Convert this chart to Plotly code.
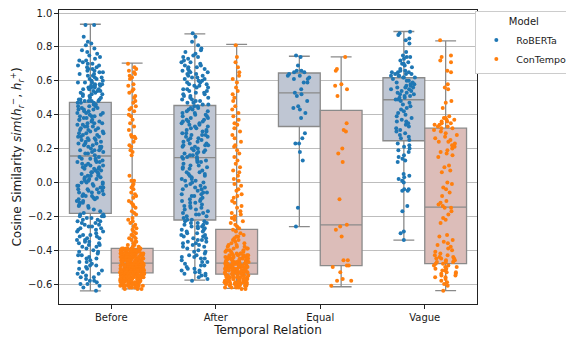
import plotly.graph_objects as go

categories = ["Before", "After", "Equal", "Vague"]

# Box statistics
roberta_q1 = [-0.183, -0.222, 0.330, 0.246]
roberta_median = [0.156, 0.146, 0.529, 0.488]
roberta_q3 = [0.472, 0.454, 0.646, 0.618]
roberta_low = [-0.641, -0.577, -0.261, -0.341]
roberta_high = [0.934, 0.877, 0.745, 0.891]

contempo_q1 = [-0.534, -0.542, -0.491, -0.480]
contempo_median = [-0.477, -0.477, -0.251, -0.146]
contempo_q3 = [-0.390, -0.277, 0.425, 0.320]
contempo_low = [-0.629, -0.626, -0.616, -0.639]
contempo_high = [0.704, 0.815, 0.741, 0.836]

# Individual similarity values (in hundredths)
before_roberta = [93,93,86,83,82,81,79,78,77,76,75,74,73,72,72,71,70,70,
69,69,68,68,67,67,66,66,65,65,64,64,63,63,62,62,61,61,60,60,
59,59,59,58,58,58,57,57,57,56,56,56,55,55,55,54,54,54,53,53,52,52,52,51,51,50,50,
49,49,49,48,48,48,48,47,47,47,
46,46,45,45,45,44,44,43,43,43,42,42,41,41,41,40,40,39,39,39,38,38,37,37,37,36,36,35,35,35,
34,34,33,33,33,32,32,31,31,31,30,30,29,29,29,28,28,27,27,27,26,26,25,25,25,24,24,23,23,23,
22,22,21,21,21,20,20,19,19,19,18,18,17,17,16,
15,15,14,14,14,13,13,12,12,12,11,11,10,10,10,9,9,8,8,8,7,7,6,6,6,5,5,4,4,4,3,3,2,2,2,1,1,0,0,0,
-1,-1,-2,-2,-2,-3,-3,-4,-4,-4,-5,-5,-6,-6,-6,-7,-7,-8,-8,-8,-9,-9,-10,-10,-11,-11,-12,-12,-13,-14,-14,-15,-16,-17,-18,
-19,-19,-20,-20,-20,-21,-21,-22,-22,-23,-23,-24,-24,-25,-25,-26,-26,-27,-27,-28,-28,-29,-29,-30,
-31,-31,-32,-32,-33,-33,-34,-34,-35,-35,-36,-36,-37,-37,-38,-38,-39,-40,
-41,-41,-42,-43,-43,-44,-45,-45,-46,-47,-47,-48,-49,-49,-50,
-51,-51,-52,-53,-54,-54,-55,-56,-56,-57,-58,-58,-59,-60,
-60,-61,-62,-64]

before_contempo = [70,68,67,66,65,64,63,62,61,58,57,55,54,53,51,50,48,47,45,44,43,42,40,
39,37,35,33,31,28,27,27,26,24,22,21,19,18,16,4,1,1,-1,-2,-3,-4,-6,-7,-8,-9,
-11,-12,-13,-14,-15,-17,-18,-19,-21,-22,-23,-24,-25,-26,-27,-28,-29,
-30,-31,-31,-32,-33,-33,-34,-35,-35,-36,-37,-37,-38,-38,
-39,-39,-39,-39,-39,-39,-39,-39,-40,-40,-40,-40,-40,-40,-40,-40,-40,
-41,-41,-41,-41,-41,-41,-41,-41,-41,-42,-42,-42,-42,-42,-42,-42,-42,-42,
-43,-43,-43,-43,-43,-43,-43,-43,-43,-44,-44,-44,-44,-44,-44,-44,-44,-44,
-45,-45,-45,-45,-45,-45,-45,-45,-45,-46,-46,-46,-46,-46,-46,-46,-46,-46,
-47,-47,-47,-47,-47,-47,-47,-47,-47,
-48,-48,-48,-48,-48,-48,-48,-48,-48,-48,-48,-48,-48,
-49,-49,-49,-49,-49,-49,-49,-49,-49,-49,-49,-49,-49,
-50,-50,-50,-50,-50,-50,-50,-50,-50,-50,-50,-50,-50,-50,
-51,-51,-51,-51,-51,-51,-51,-51,-51,-51,-51,-51,-51,
-52,-52,-52,-52,-52,-52,-52,-52,-52,-52,-52,-52,-52,-52,
-53,-53,-53,-53,-53,-53,-53,-53,-53,-53,-53,-53,-53,
-54,-54,-54,-54,-54,-54,-54,-54,-54,-55,-55,-55,-55,-55,-55,-55,-55,-55,
-56,-56,-56,-56,-56,-56,-56,-56,-56,-57,-57,-57,-57,-57,-57,-57,-57,-57,
-58,-58,-58,-58,-58,-58,-58,-58,-58,-59,-59,-59,-59,-59,-59,-59,-59,-59,
-60,-60,-60,-60,-60,-60,-60,-60,-60,-60,-61,-61,-61,-61,-61,-61,-61,-61,
-62,-62,-62,-62,-62,-63,-63,-63]

after_roberta = [88,86,83,81,79,78,77,76,75,74,74,73,72,71,71,70,
69,69,68,68,67,67,66,66,65,65,64,64,63,63,62,62,61,61,60,60,
59,59,58,58,57,57,56,56,55,55,54,54,53,53,52,52,51,51,50,
50,49,49,48,48,47,47,46,46,45,
45,44,44,43,43,42,42,41,41,40,40,39,39,38,38,37,37,36,36,36,35,35,34,34,33,33,32,32,31,31,
30,30,29,29,28,28,28,27,27,26,26,25,25,24,24,23,23,22,22,22,21,21,20,20,19,19,18,18,17,17,16,16,15,15,15,
14,14,13,13,12,12,11,10,10,9,9,8,8,7,6,6,5,5,4,4,3,2,2,1,1,0,0,-1,-2,-2,-3,-3,-4,-4,-5,
-6,-6,-7,-7,-8,-8,-9,-10,-10,-11,-11,-12,-12,-13,-14,-14,-15,-15,-16,-16,-17,-18,-18,-19,-19,-20,-20,-21,-22,-22,
-23,-23,-24,-24,-24,-25,-25,-26,-26,-26,-27,-27,-28,-28,-29,-29,-30,-30,
-31,-31,-32,-32,-33,-33,-34,-34,-35,-35,-36,-36,-37,-37,-38,-38,-39,-40,
-41,-41,-42,-43,-43,-44,-44,-45,-45,-46,-47,-47,-48,-49,-49,-50,
-51,-51,-52,-52,-53,-53,-54,-54,-55,-55,-56,-57,-58]

after_contempo = [81,74,71,68,65,63,61,59,56,54,52,50,48,45,43,41,39,37,35,34,32,30,
28,26,24,22,21,19,17,15,13,11,9,7,6,4,2,1,-1,-2,-4,-5,-7,-8,-9,
-11,-12,-14,-15,-17,-18,-19,-20,-21,-22,-23,-24,-25,-26,-27,
-28,-29,-30,-31,-32,-32,-33,-34,-34,-35,
-36,-36,-37,-37,-38,-38,-38,-39,-39,-39,-40,-40,-40,-41,-41,-41,-42,-42,-42,-42,
-43,-43,-43,-43,-43,-43,-44,-44,-44,-44,-44,-44,-45,-45,-45,-45,-45,-45,
-46,-46,-46,-46,-46,-46,-47,-47,-47,-47,-47,-47,
-48,-48,-48,-48,-48,-48,-48,-48,-48,-49,-49,-49,-49,-49,-49,-49,-49,-49,
-50,-50,-50,-50,-50,-50,-50,-50,-50,-51,-51,-51,-51,-51,-51,-51,-51,-51,
-52,-52,-52,-52,-52,-52,-52,-52,-53,-53,-53,-53,-53,-53,-53,-53,
-54,-54,-54,-54,-54,-54,-54,-54,
-55,-55,-55,-55,-55,-55,-55,-55,-56,-56,-56,-56,-56,-56,-56,-56,
-57,-57,-57,-57,-57,-57,-57,-57,-58,-58,-58,-58,-58,-58,-58,-58,
-59,-59,-59,-59,-59,-59,-59,-59,-60,-60,-60,-60,-60,-60,-60,-60,
-61,-61,-61,-61,-61,-61,-62,-62,-62,-62,-63,-63]

equal_roberta = [75,74,69,66,66,65,65,64,63,63,62,61,61,59,59,55,53,52,51,48,45,44,43,41,38,
29,26,23,23,18,13,-15,-26]

equal_contempo = [74,67,66,58,57,55,51,35,31,30,20,17,12,-10,-25,-26,-28,-32,-46,-46,
-49,-49,-50,-53,-57,-58,-58,-61]

vague_roberta = [89,88,87,85,84,82,77,75,74,74,73,72,71,70,70,69,68,67,
66,66,65,65,65,64,64,64,63,63,63,62,62,62,61,
60,60,59,59,58,58,57,57,56,56,56,55,55,54,54,53,53,52,52,51,51,50,50,49,49,
48,47,46,45,44,43,42,41,40,39,38,37,36,36,35,
34,33,32,31,30,29,28,27,26,25,
23,22,21,20,19,18,16,15,14,13,12,
5,4,3,2,1,0,-4,-4,-5,-5,-14,-17,-29,-30,-34]

vague_contempo = [84,75,74,72,71,66,65,58,56,55,48,47,44,39,38,38,37,37,36,36,35,35,34,34,33,33,32,32,
31,30,29,28,27,26,25,24,24,23,22,21,20,19,18,17,16,15,
10,9,7,6,0,-1,-3,-4,-6,-8,-11,-12,-13,-14,-15,-15,-17,-19,-21,-22,-24,
-31,-32,-34,-35,-36,-37,-38,-39,-40,-41,-42,-43,
-43,-44,-44,-45,-45,-45,-46,-46,-46,-47,-47,-47,-48,-48,
-49,-49,-50,-50,-51,-51,-52,-52,-53,-53,-54,-54,-55,-55,-56,-56,-57,-58,-59,-60,-61,-64]

roberta_points = [before_roberta, after_roberta, equal_roberta, vague_roberta]
contempo_points = [before_contempo, after_contempo, equal_contempo, vague_contempo]

BLUE = "#1f77b4"
ORANGE = "#ff7f0e"
BOX_LINE = "#8a8a8a"


def flatten(groups):
    xs, ys = [], []
    for cat, vals in zip(categories, groups):
        xs += [cat] * len(vals)
        ys += [v / 100 for v in vals]
    return xs, ys


fig = go.Figure()

fig.add_trace(go.Box(
    x=categories, q1=roberta_q1, median=roberta_median, q3=roberta_q3,
    lowerfence=roberta_low, upperfence=roberta_high,
    offsetgroup="r", name="RoBERTa", boxpoints=False,
    fillcolor="#bfc6d3", line=dict(color=BOX_LINE, width=1.3),
    whiskerwidth=0.5, showlegend=False, hoverinfo="skip"))
fig.add_trace(go.Box(
    x=categories, q1=contempo_q1, median=contempo_median, q3=contempo_q3,
    lowerfence=contempo_low, upperfence=contempo_high,
    offsetgroup="c", name="ConTempo", boxpoints=False,
    fillcolor="#dcbdb9", line=dict(color=BOX_LINE, width=1.3),
    whiskerwidth=0.5, showlegend=False, hoverinfo="skip"))

for pts, col, grp, nm, jit in [(roberta_points, BLUE, "r", "RoBERTa", 0.65),
                               (contempo_points, ORANGE, "c", "ConTempo", 0.58)]:
    xs, ys = flatten(pts)
    fig.add_trace(go.Box(
        x=xs, y=ys, offsetgroup=grp, name=nm, boxpoints="all",
        jitter=jit, pointpos=0,
        fillcolor="rgba(0,0,0,0)", line=dict(color="rgba(0,0,0,0)", width=0),
        marker=dict(color=col, size=4, line=dict(width=0)),
        showlegend=False))

for nm, col in [("RoBERTa", BLUE), ("ConTempo", ORANGE)]:
    fig.add_trace(go.Scatter(x=[None], y=[None], mode="markers", name=nm,
                             marker=dict(color=col, size=4)))

tickvals = [-0.6, -0.4, -0.2, 0.0, 0.2, 0.4, 0.6, 0.8, 1.0]
ticktext = [f"{v:.1f}".replace("-", "\u2212") for v in tickvals]

# the page adds an 8px body margin; the figure is offset by it
fig.update_layout(
    width=574, height=330,
    margin=dict(l=51, r=105, t=2, b=33.5, autoexpand=False),
    boxmode="group", boxgap=0.2, boxgroupgap=0,
    plot_bgcolor="white", paper_bgcolor="white",
    font=dict(family="DejaVu Sans", size=10, color="#1a1a1a"),
    legend=dict(title=dict(text="Model", side="top center", font=dict(size=10)),
                x=0.996, y=0.995, xanchor="left", yanchor="top",
                bordercolor="#cccccc", borderwidth=1,
                font=dict(size=9.5), itemwidth=30),
)
fig.update_xaxes(
    categoryorder="array", categoryarray=categories, range=[-0.5, 3.5],
    showline=True, mirror=True, linecolor="#222222", linewidth=1.2,
    ticks="outside", ticklen=3.5, tickcolor="#222222", showgrid=False,
    title=dict(text="Temporal Relation", standoff=4), automargin=False)
fig.update_yaxes(
    range=[-0.718, 1.018], tickvals=tickvals, ticktext=ticktext,
    ticklabeloverflow="allow",
    showline=True, mirror=True, linecolor="#222222", linewidth=1.2,
    ticks="outside", ticklen=3.5, tickcolor="#222222",
    showgrid=True, gridcolor="#bdbdbd", gridwidth=1.2, zeroline=False,
    title=dict(text="Cosine Similarity <i>sim</i>(<i>h</i><sub><i>r</i></sub><sup>\u2212</sup>, "
                    "<i>h</i><sub><i>r</i></sub><sup>+</sup>)", standoff=6),
    automargin=False)

fig.write_html("out.html")
